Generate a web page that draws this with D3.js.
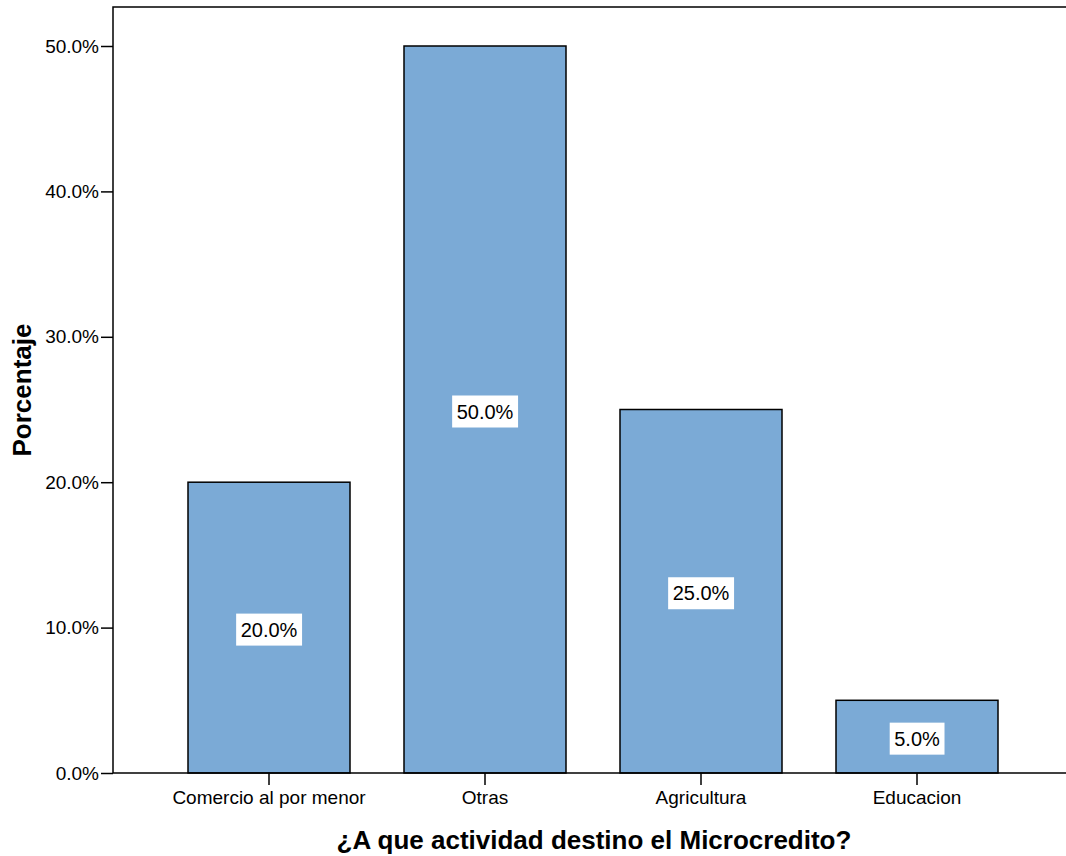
<!DOCTYPE html>
<html>
<head>
<meta charset="utf-8">
<script src="https://cdn.jsdelivr.net/npm/d3@7"></script>
<style>
  html, body { margin: 0; padding: 0; background: #fff; }
  svg { display: block; font-family: Arial, "Liberation Sans", sans-serif; }
</style>
</head>
<body>
<svg id="chart" width="1066" height="856"></svg>
<script>
// Destination of microcredit, share of respondents (%)
const categories = ["Comercio al por menor", "Otras", "Agricultura", "Educacion"];
const percentages = [20.0, 50.0, 25.0, 5.0];
const yTicks = [0, 10, 20, 30, 40, 50];
const yTitle = "Porcentaje";
const xTitle = "¿A que actividad destino el Microcredito?";

const svg = d3.select("#chart");
const frame = { left: 113, top: 7, right: 1075, bottom: 773 };

const x = d3.scaleBand()
  .domain(categories)
  .range([161, 1025])
  .paddingInner(0.25)
  .paddingOuter(0.125);

const y = d3.scaleLinear()
  .domain([0, 50])
  .range([frame.bottom, 46]);

// plot frame (left, top; right side runs off the canvas)
svg.append("path")
  .attr("d", `M${frame.left},${frame.bottom}V${frame.top}H${frame.right}`)
  .attr("fill", "none")
  .attr("stroke", "#000")
  .attr("stroke-width", 1.5);

// bars
svg.append("g").selectAll("rect")
  .data(categories)
  .join("rect")
  .attr("x", d => x(d))
  .attr("y", (d, i) => y(percentages[i]))
  .attr("width", x.bandwidth())
  .attr("height", (d, i) => y(0) - y(percentages[i]))
  .attr("fill", "#7BAAD6")
  .attr("stroke", "#000")
  .attr("stroke-width", 1.5);

// y axis
const yAxis = svg.append("g")
  .attr("transform", `translate(${frame.left},0)`)
  .call(d3.axisLeft(y).tickValues(yTicks).tickSize(12).tickPadding(2)
    .tickFormat(d => d.toFixed(1) + "%"));
yAxis.select(".domain").remove();
yAxis.selectAll(".tick line").attr("stroke", "#000").attr("stroke-width", 1.5);
yAxis.selectAll(".tick text")
  .attr("font-family", "Arial, 'Liberation Sans', sans-serif")
  .attr("font-size", 19).attr("fill", "#000");

// x axis
const xAxis = svg.append("g")
  .attr("transform", `translate(0,${frame.bottom})`)
  .call(d3.axisBottom(x).tickSize(12).tickPadding(6));
xAxis.select(".domain").remove();
svg.append("line")
  .attr("x1", frame.left).attr("x2", frame.right)
  .attr("y1", frame.bottom).attr("y2", frame.bottom)
  .attr("stroke", "#000").attr("stroke-width", 1.5);
xAxis.selectAll(".tick line").attr("stroke", "#000").attr("stroke-width", 1.5);
xAxis.selectAll(".tick text")
  .attr("font-family", "Arial, 'Liberation Sans', sans-serif")
  .attr("font-size", 19).attr("fill", "#000");

// value labels on white boxes at mid-height of each bar
const labels = svg.append("g").selectAll("g")
  .data(categories)
  .join("g")
  .attr("transform", (d, i) =>
    `translate(${x(d) + x.bandwidth() / 2},${y(percentages[i] / 2) + 2})`);
labels.each(function (d, i) {
  const g = d3.select(this);
  const t = g.append("text")
    .attr("text-anchor", "middle")
    .attr("dy", "0.35em")
    .attr("font-size", 20)
    .attr("fill", "#000")
    .text(percentages[i].toFixed(1) + "%");
  const bb = t.node().getBBox();
  g.insert("rect", "text")
    .attr("x", bb.x - 4.5).attr("y", -16)
    .attr("width", bb.width + 9).attr("height", 32)
    .attr("fill", "#fff");
});

// axis titles
svg.append("text")
  .attr("transform", `translate(31,390) rotate(-90)`)
  .attr("text-anchor", "middle")
  .attr("font-size", 26).attr("font-weight", "bold")
  .text(yTitle);

svg.append("text")
  .attr("x", 594).attr("y", 849)
  .attr("text-anchor", "middle")
  .attr("font-size", 26).attr("font-weight", "bold")
  .text(xTitle);
</script>
</body>
</html>
